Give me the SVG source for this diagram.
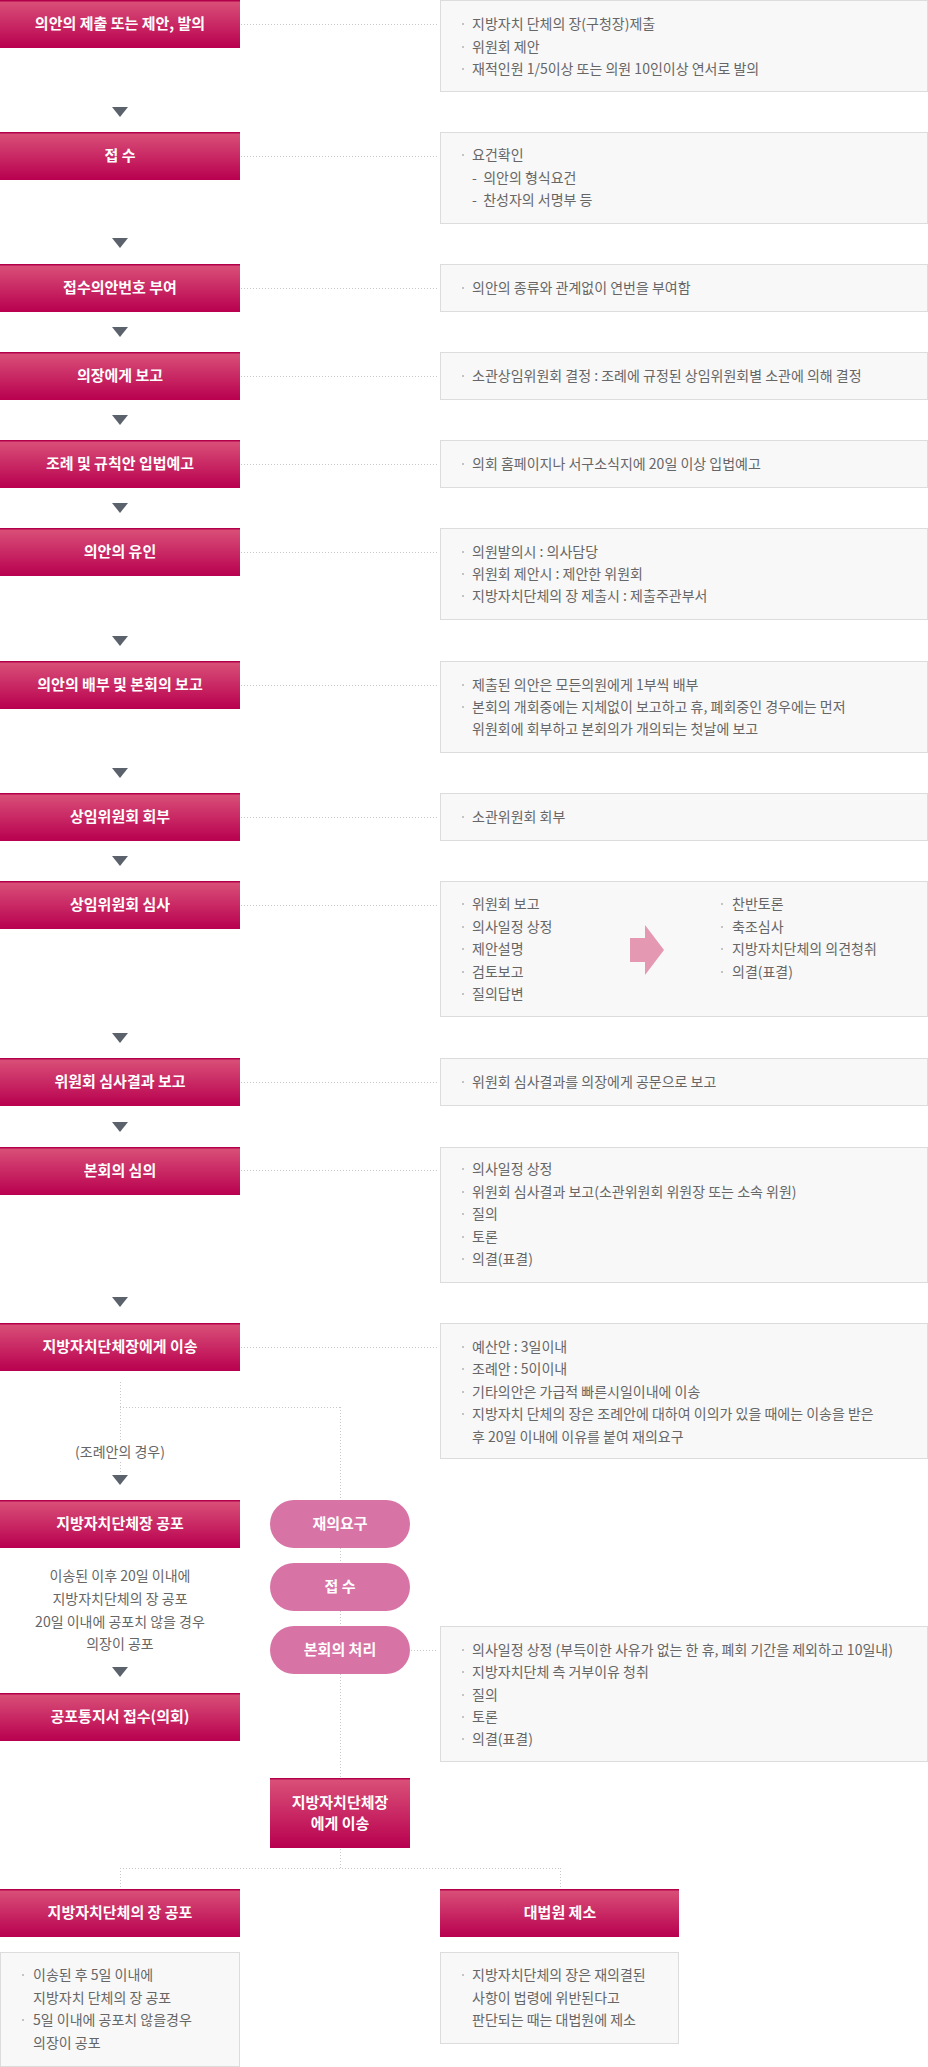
<svg xmlns="http://www.w3.org/2000/svg" width="928" height="2067" viewBox="0 0 928 2067">
<defs>
<linearGradient id="gBox" x1="0" y1="0" x2="0" y2="1">
<stop offset="0" stop-color="#da5279"/>
<stop offset="1" stop-color="#b8004f"/>
</linearGradient>
<style>
.box{fill:url(#gBox)}
.top{fill:#b3004a}
.ttl{font-family:"Noto Sans CJK KR","Noto Sans",sans-serif;font-size:15px;font-weight:700;fill:#fff;text-anchor:middle}
.info{fill:#f8f8f8;stroke:#dcdcdc;stroke-width:1}
.tx{font-family:"Noto Sans CJK KR","Noto Sans",sans-serif;font-size:14px;fill:#666}
.txc{font-family:"Noto Sans CJK KR","Noto Sans",sans-serif;font-size:14px;fill:#666;text-anchor:middle}
.bul{fill:#c4c4c4}
.dot{stroke:#c8c8c8;stroke-width:1;stroke-dasharray:1 2;fill:none}
.tri{fill:#5b626c}
.pill{fill:#d873a6}
</style>
<symbol id="b" overflow="visible"><rect x="0" y="-3" width="2" height="2"/></symbol>
</defs>

<g id="connectors">
<line class="dot" x1="241" y1="24.5" x2="438" y2="24.5"/>
<line class="dot" x1="241" y1="156.5" x2="438" y2="156.5"/>
<line class="dot" x1="241" y1="288.5" x2="438" y2="288.5"/>
<line class="dot" x1="241" y1="376.5" x2="438" y2="376.5"/>
<line class="dot" x1="241" y1="464.5" x2="438" y2="464.5"/>
<line class="dot" x1="241" y1="552.5" x2="438" y2="552.5"/>
<line class="dot" x1="241" y1="685.5" x2="438" y2="685.5"/>
<line class="dot" x1="241" y1="817.5" x2="438" y2="817.5"/>
<line class="dot" x1="241" y1="905.5" x2="438" y2="905.5"/>
<line class="dot" x1="241" y1="1082.5" x2="438" y2="1082.5"/>
<line class="dot" x1="241" y1="1170.5" x2="438" y2="1170.5"/>
<line class="dot" x1="241" y1="1347.5" x2="438" y2="1347.5"/>
<line class="dot" x1="120.5" y1="1382" x2="120.5" y2="1440"/>
<line class="dot" x1="120.5" y1="1462" x2="120.5" y2="1473"/>
<line class="dot" x1="120" y1="1407.5" x2="340" y2="1407.5"/>
<line class="dot" x1="340.5" y1="1407" x2="340.5" y2="1778"/>
<line class="dot" x1="411" y1="1650.5" x2="438" y2="1650.5"/>
<line class="dot" x1="340.5" y1="1849" x2="340.5" y2="1868"/>
<line class="dot" x1="120" y1="1868.5" x2="560" y2="1868.5"/>
<line class="dot" x1="120.5" y1="1868" x2="120.5" y2="1888"/>
<line class="dot" x1="560.5" y1="1868" x2="560.5" y2="1888"/>
<polygon class="tri" points="112,107 128,107 120,117"/>
<polygon class="tri" points="112,238 128,238 120,248"/>
<polygon class="tri" points="112,327 128,327 120,337"/>
<polygon class="tri" points="112,415 128,415 120,425"/>
<polygon class="tri" points="112,503 128,503 120,513"/>
<polygon class="tri" points="112,636 128,636 120,646"/>
<polygon class="tri" points="112,768 128,768 120,778"/>
<polygon class="tri" points="112,856 128,856 120,866"/>
<polygon class="tri" points="112,1033 128,1033 120,1043"/>
<polygon class="tri" points="112,1122 128,1122 120,1132"/>
<polygon class="tri" points="112,1297 128,1297 120,1307"/>
<polygon class="tri" points="112,1475 128,1475 120,1485"/>
<polygon class="tri" points="112,1667 128,1667 120,1677"/>
</g>

<g id="n1">
<rect class="box" x="0" y="0" width="240" height="48"/><rect class="top" x="0" y="0" width="240" height="1.5"/>
<text class="ttl" x="120" y="29">의안의 제출 또는 제안, 발의</text>
<rect class="info" x="440.5" y="0.5" width="487" height="91"/>
<g class="bul"><use href="#b" x="462" y="26"/><use href="#b" x="462" y="49"/><use href="#b" x="462" y="71"/></g>
<text class="tx" x="472" y="29">지방자치 단체의 장(구청장)제출</text>
<text class="tx" x="472" y="52">위원회 제안</text>
<text class="tx" x="472" y="74">재적인원 1/5이상 또는 의원 10인이상 연서로 발의</text>
</g>

<g id="n2">
<rect class="box" x="0" y="132" width="240" height="48"/><rect class="top" x="0" y="132" width="240" height="1.5"/>
<text class="ttl" x="120" y="161">접 수</text>
<rect class="info" x="440.5" y="132.5" width="487" height="91"/>
<g class="bul"><use href="#b" x="462" y="157"/></g>
<text class="tx" x="472" y="160">요건확인</text>
<text class="tx" x="472" y="183" xml:space="preserve">-  의안의 형식요건</text>
<text class="tx" x="472" y="205" xml:space="preserve">-  찬성자의 서명부 등</text>
</g>

<g id="n3">
<rect class="box" x="0" y="264" width="240" height="48"/><rect class="top" x="0" y="264" width="240" height="1.5"/>
<text class="ttl" x="120" y="293">접수의안번호 부여</text>
<rect class="info" x="440.5" y="264.5" width="487" height="47"/>
<g class="bul"><use href="#b" x="462" y="290"/></g>
<text class="tx" x="472" y="293">의안의 종류와 관계없이 연번을 부여함</text>
</g>

<g id="n4">
<rect class="box" x="0" y="352" width="240" height="48"/><rect class="top" x="0" y="352" width="240" height="1.5"/>
<text class="ttl" x="120" y="381">의장에게 보고</text>
<rect class="info" x="440.5" y="352.5" width="487" height="47"/>
<g class="bul"><use href="#b" x="462" y="378"/></g>
<text class="tx" x="472" y="381">소관상임위원회 결정 : 조례에 규정된 상임위원회별 소관에 의해 결정</text>
</g>

<g id="n5">
<rect class="box" x="0" y="440" width="240" height="48"/><rect class="top" x="0" y="440" width="240" height="1.5"/>
<text class="ttl" x="120" y="469">조례 및 규칙안 입법예고</text>
<rect class="info" x="440.5" y="440.5" width="487" height="47"/>
<g class="bul"><use href="#b" x="462" y="466"/></g>
<text class="tx" x="472" y="469">의회 홈페이지나 서구소식지에 20일 이상 입법예고</text>
</g>

<g id="n6">
<rect class="box" x="0" y="528" width="240" height="48"/><rect class="top" x="0" y="528" width="240" height="1.5"/>
<text class="ttl" x="120" y="557">의안의 유인</text>
<rect class="info" x="440.5" y="528.5" width="487" height="91"/>
<g class="bul"><use href="#b" x="462" y="554"/><use href="#b" x="462" y="576"/><use href="#b" x="462" y="598"/></g>
<text class="tx" x="472" y="557">의원발의시 : 의사담당</text>
<text class="tx" x="472" y="579">위원회 제안시 : 제안한 위원회</text>
<text class="tx" x="472" y="601">지방자치단체의 장 제출시 : 제출주관부서</text>
</g>

<g id="n7">
<rect class="box" x="0" y="661" width="240" height="48"/><rect class="top" x="0" y="661" width="240" height="1.5"/>
<text class="ttl" x="120" y="690">의안의 배부 및 본회의 보고</text>
<rect class="info" x="440.5" y="661.5" width="487" height="91"/>
<g class="bul"><use href="#b" x="462" y="687"/><use href="#b" x="462" y="709"/></g>
<text class="tx" x="472" y="690">제출된 의안은 모든의원에게 1부씩 배부</text>
<text class="tx" x="472" y="712">본회의 개회중에는 지체없이 보고하고 휴, 폐회중인 경우에는 먼저</text>
<text class="tx" x="472" y="734">위원회에 회부하고 본회의가 개의되는 첫날에 보고</text>
</g>

<g id="n8">
<rect class="box" x="0" y="793" width="240" height="48"/><rect class="top" x="0" y="793" width="240" height="1.5"/>
<text class="ttl" x="120" y="822">상임위원회 회부</text>
<rect class="info" x="440.5" y="793.5" width="487" height="47"/>
<g class="bul"><use href="#b" x="462" y="819"/></g>
<text class="tx" x="472" y="822">소관위원회 회부</text>
</g>

<g id="n9">
<rect class="box" x="0" y="881" width="240" height="48"/><rect class="top" x="0" y="881" width="240" height="1.5"/>
<text class="ttl" x="120" y="910">상임위원회 심사</text>
<rect class="info" x="440.5" y="881.5" width="487" height="135"/>
<g class="bul"><use href="#b" x="462" y="906"/><use href="#b" x="462" y="929"/><use href="#b" x="462" y="951"/><use href="#b" x="462" y="974"/><use href="#b" x="462" y="996"/>
<use href="#b" x="721" y="906"/><use href="#b" x="721" y="929"/><use href="#b" x="721" y="951"/><use href="#b" x="721" y="974"/></g>
<text class="tx" x="472" y="909">위원회 보고</text>
<text class="tx" x="472" y="932">의사일정 상정</text>
<text class="tx" x="472" y="954">제안설명</text>
<text class="tx" x="472" y="977">검토보고</text>
<text class="tx" x="472" y="999">질의답변</text>
<polygon points="630,938 645,938 645,925 664,950 645,975 645,962 630,962" fill="#e598b2"/>
<text class="tx" x="732" y="909">찬반토론</text>
<text class="tx" x="732" y="932">축조심사</text>
<text class="tx" x="732" y="954">지방자치단체의 의견청취</text>
<text class="tx" x="732" y="977">의결(표결)</text>
</g>

<g id="n10">
<rect class="box" x="0" y="1058" width="240" height="48"/><rect class="top" x="0" y="1058" width="240" height="1.5"/>
<text class="ttl" x="120" y="1087">위원회 심사결과 보고</text>
<rect class="info" x="440.5" y="1058.5" width="487" height="47"/>
<g class="bul"><use href="#b" x="462" y="1084"/></g>
<text class="tx" x="472" y="1087">위원회 심사결과를 의장에게 공문으로 보고</text>
</g>

<g id="n11">
<rect class="box" x="0" y="1147" width="240" height="48"/><rect class="top" x="0" y="1147" width="240" height="1.5"/>
<text class="ttl" x="120" y="1176">본회의 심의</text>
<rect class="info" x="440.5" y="1147.5" width="487" height="135"/>
<g class="bul"><use href="#b" x="462" y="1171"/><use href="#b" x="462" y="1194"/><use href="#b" x="462" y="1216"/><use href="#b" x="462" y="1239"/><use href="#b" x="462" y="1261"/></g>
<text class="tx" x="472" y="1174">의사일정 상정</text>
<text class="tx" x="472" y="1197">위원회 심사결과 보고(소관위원회 위원장 또는 소속 위원)</text>
<text class="tx" x="472" y="1219">질의</text>
<text class="tx" x="472" y="1242">토론</text>
<text class="tx" x="472" y="1264">의결(표결)</text>
</g>

<g id="n12">
<rect class="box" x="0" y="1323" width="240" height="48"/><rect class="top" x="0" y="1323" width="240" height="1.5"/>
<text class="ttl" x="120" y="1352">지방자치단체장에게 이송</text>
<rect class="info" x="440.5" y="1323.5" width="487" height="135"/>
<g class="bul"><use href="#b" x="462" y="1349"/><use href="#b" x="462" y="1371"/><use href="#b" x="462" y="1394"/><use href="#b" x="462" y="1416"/></g>
<text class="tx" x="472" y="1352">예산안 : 3일이내</text>
<text class="tx" x="472" y="1374">조례안 : 5이이내</text>
<text class="tx" x="472" y="1397">기타의안은 가급적 빠른시일이내에 이송</text>
<text class="tx" x="472" y="1419">지방자치 단체의 장은 조례안에 대하여 이의가 있을 때에는 이송을 받은</text>
<text class="tx" x="472" y="1442">후 20일 이내에 이유를 붙여 재의요구</text>
</g>

<g id="lbl-case">
<text class="txc" x="120" y="1457">(조례안의 경우)</text>
</g>

<g id="n13">
<rect class="box" x="0" y="1500" width="240" height="48"/><rect class="top" x="0" y="1500" width="240" height="1.5"/>
<text class="ttl" x="120" y="1529">지방자치단체장 공포</text>
</g>

<g id="note13">
<text class="txc" x="120" y="1581">이송된 이후 20일 이내에</text>
<text class="txc" x="120" y="1604">지방자치단체의 장 공포</text>
<text class="txc" x="120" y="1627">20일 이내에 공포치 않을 경우</text>
<text class="txc" x="120" y="1649">의장이 공포</text>
</g>

<g id="n14">
<rect class="box" x="0" y="1693" width="240" height="48"/><rect class="top" x="0" y="1693" width="240" height="1.5"/>
<text class="ttl" x="120" y="1722">공포통지서 접수(의회)</text>
</g>

<g id="p1">
<rect class="pill" x="270" y="1500" width="140" height="48" rx="24"/>
<text class="ttl" x="340" y="1529">재의요구</text>
</g>
<g id="p2">
<rect class="pill" x="270" y="1563" width="140" height="48" rx="24"/>
<text class="ttl" x="340" y="1592">접 수</text>
</g>
<g id="p3">
<rect class="pill" x="270" y="1626" width="140" height="48" rx="24"/>
<text class="ttl" x="340" y="1655">본회의 처리</text>
<rect class="info" x="440.5" y="1626.5" width="487" height="135"/>
<g class="bul"><use href="#b" x="462" y="1652"/><use href="#b" x="462" y="1674"/><use href="#b" x="462" y="1697"/><use href="#b" x="462" y="1719"/><use href="#b" x="462" y="1741"/></g>
<text class="tx" x="472" y="1655">의사일정 상정 (부득이한 사유가 없는 한 휴, 폐회 기간을 제외하고 10일내)</text>
<text class="tx" x="472" y="1677">지방자치단체 측 거부이유 청취</text>
<text class="tx" x="472" y="1700">질의</text>
<text class="tx" x="472" y="1722">토론</text>
<text class="tx" x="472" y="1744">의결(표결)</text>
</g>

<g id="n15">
<rect class="box" x="270" y="1778" width="140" height="70"/><rect class="top" x="270" y="1778" width="140" height="1.5"/>
<text class="ttl" x="340" y="1808">지방자치단체장</text>
<text class="ttl" x="340" y="1829">에게 이송</text>
</g>

<g id="n16">
<rect class="box" x="0" y="1889" width="240" height="48"/><rect class="top" x="0" y="1889" width="240" height="1.5"/>
<text class="ttl" x="120" y="1918">지방자치단체의 장 공포</text>
<rect class="info" x="0.5" y="1952.5" width="239" height="114"/>
<g class="bul"><use href="#b" x="22" y="1977"/><use href="#b" x="22" y="2022"/></g>
<text class="tx" x="33" y="1980">이송된 후 5일 이내에</text>
<text class="tx" x="33" y="2003">지방자치 단체의 장 공포</text>
<text class="tx" x="33" y="2025">5일 이내에 공포치 않을경우</text>
<text class="tx" x="33" y="2048">의장이 공포</text>
</g>

<g id="n17">
<rect class="box" x="440" y="1889" width="239" height="48"/><rect class="top" x="440" y="1889" width="239" height="1.5"/>
<text class="ttl" x="560" y="1918">대법원 제소</text>
<rect class="info" x="440.5" y="1952.5" width="238" height="91"/>
<g class="bul"><use href="#b" x="462" y="1977"/></g>
<text class="tx" x="472" y="1980">지방자치단체의 장은 재의결된</text>
<text class="tx" x="472" y="2003">사항이 법령에 위반된다고</text>
<text class="tx" x="472" y="2025">판단되는 때는 대법원에 제소</text>
</g>
</svg>
